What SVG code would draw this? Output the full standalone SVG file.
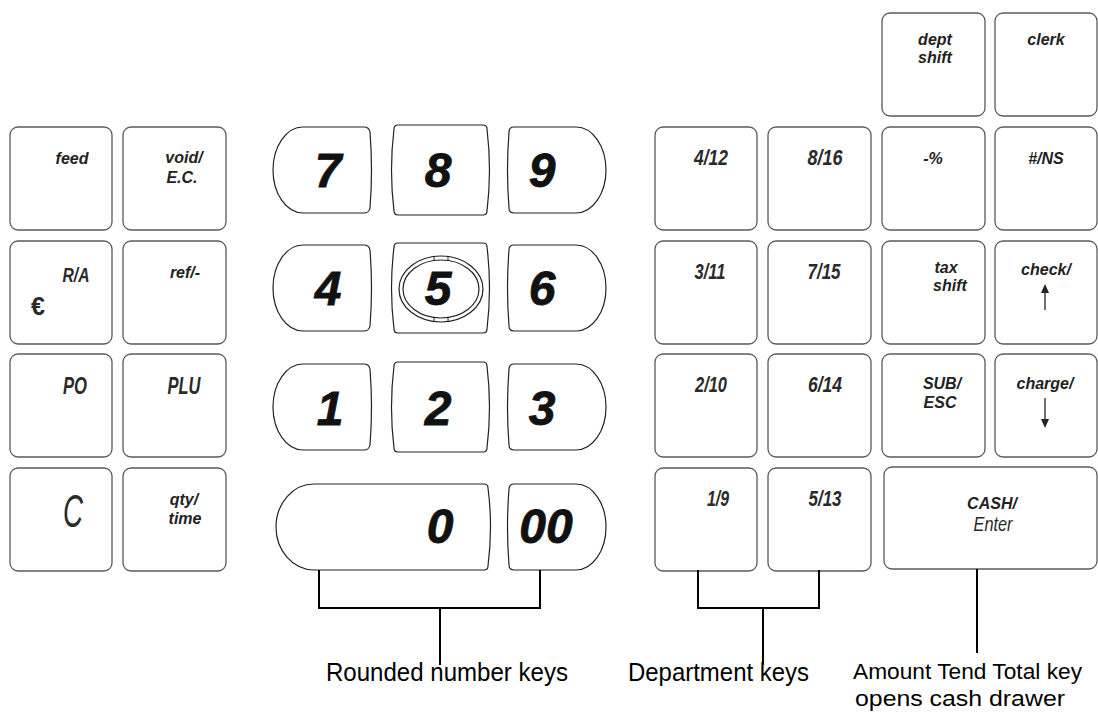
<svg xmlns="http://www.w3.org/2000/svg" xmlns:xlink="http://www.w3.org/1999/xlink" width="1098" height="713" viewBox="0 0 1098 713">
<style>
.k{fill:#fff;stroke:#5a5a5a;stroke-width:1.3}
.n{fill:#fff;stroke:#222;stroke-width:1.2}
.lb{font-family:"Liberation Sans",Arial,sans-serif;font-style:italic;font-weight:bold;font-size:16px;fill:#222;text-anchor:middle}
.nr{font-family:"Liberation Sans",Arial,sans-serif;font-style:italic;font-weight:bold;font-size:20px;fill:#2a2a2a;text-anchor:middle}
.nb{font-family:"Liberation Sans",Arial,sans-serif;font-style:italic;font-weight:bold;font-size:22px;fill:#2a2a2a;text-anchor:middle}
.dg{font-family:"Liberation Sans",Arial,sans-serif;font-style:italic;font-weight:bold;font-size:48px;fill:#111;stroke:#111;stroke-width:0.8;text-anchor:middle}
.cap{font-family:"Liberation Sans",Arial,sans-serif;font-size:25px;fill:#000}
.cap2{font-family:"Liberation Sans",Arial,sans-serif;font-size:22px;fill:#000}
.conn{stroke:#000;stroke-width:2;fill:none}
</style>
<defs>
<path id="kl" d="M30,0 H91 Q96,0 97,5 Q100,43 97,81 Q96,86 91,86 H30 A30,43 0 0 1 30,0 Z"/>
<path id="km" d="M8,0 H93 Q97,0 97,4 Q102,45 97,86 Q97,90 93,90 H8 Q4,90 4,86 Q-1,45 4,4 Q4,0 8,0 Z"/>
<path id="kr" d="M68,0 H6 Q1,0 1,5 Q-2,43 1,81 Q1,86 6,86 H68 A30,43 0 0 0 68,0 Z"/>
</defs>
<rect width="1098" height="713" fill="#fff"/>

<!-- left function keys -->
<g id="key-feed"><rect class="k" x="10" y="127" width="102" height="103" rx="8"/><text class="lb" x="72" y="164">feed</text></g>
<g id="key-void"><rect class="k" x="123" y="127" width="103" height="103" rx="8"/><text class="lb" x="184" y="163">void/</text><text class="lb" x="182" y="183">E.C.</text></g>
<g id="key-ra"><rect class="k" x="10" y="241" width="102" height="103" rx="8"/><text class="nr" x="76" y="282" textLength="27" lengthAdjust="spacingAndGlyphs">R/A</text><text class="nr" x="38" y="315" style="font-style:normal;font-weight:bold;font-size:25px">€</text></g>
<g id="key-ref"><rect class="k" x="123" y="241" width="103" height="103" rx="8"/><text class="lb" x="185" y="278">ref/-</text></g>
<g id="key-po"><rect class="k" x="10" y="354" width="102" height="103" rx="8"/><text class="nr" x="75" y="394" style="font-size:23px" textLength="24" lengthAdjust="spacingAndGlyphs">PO</text></g>
<g id="key-plu"><rect class="k" x="123" y="354" width="103" height="103" rx="8"/><text class="nr" x="184" y="394" style="font-size:23px" textLength="33" lengthAdjust="spacingAndGlyphs">PLU</text></g>
<g id="key-c"><rect class="k" x="10" y="468" width="102" height="103" rx="8"/><text class="nr" x="73" y="527" style="font-size:47px;font-weight:normal" textLength="20" lengthAdjust="spacingAndGlyphs">C</text></g>
<g id="key-qty"><rect class="k" x="123" y="468" width="103" height="103" rx="8"/><text class="lb" x="184" y="505">qty/</text><text class="lb" x="185" y="524">time</text></g>

<!-- number keys -->
<g id="key-7"><use href="#kl" class="n" x="273" y="127"/><text class="dg" x="328" y="187">7</text></g>
<g id="key-8"><use href="#km" class="n" x="390" y="125"/><text class="dg" x="438" y="187">8</text></g>
<g id="key-9"><use href="#kr" class="n" x="508" y="127"/><text class="dg" x="542" y="187">9</text></g>
<g id="key-4"><use href="#kl" class="n" x="273" y="245"/><text class="dg" x="328" y="305">4</text></g>
<g id="key-5"><use href="#km" class="n" x="390" y="243"/>
<ellipse cx="441" cy="289" rx="42" ry="33" fill="none" stroke="#222" stroke-width="1.2"/>
<ellipse cx="441" cy="289" rx="38" ry="29" fill="none" stroke="#222" stroke-width="1.2"/>
<path d="M434,256v4M448,256v4M434,318v4M448,318v4" stroke="#222" stroke-width="1"/>
<text class="dg" x="438" y="305">5</text></g>
<g id="key-6"><use href="#kr" class="n" x="508" y="245"/><text class="dg" x="542" y="305">6</text></g>
<g id="key-1"><use href="#kl" class="n" x="273" y="364"/><text class="dg" x="330" y="425">1</text></g>
<g id="key-2"><use href="#km" class="n" x="390" y="362"/><text class="dg" x="438" y="425">2</text></g>
<g id="key-3"><use href="#kr" class="n" x="508" y="364"/><text class="dg" x="542" y="425">3</text></g>
<g id="key-0"><path class="n" d="M314,484 H484 Q488,484 488,488 Q493,527 488,566 Q488,570 484,570 H314 A38,43 0 0 1 314,484 Z"/><text class="dg" x="440" y="543">0</text></g>
<g id="key-00"><use href="#kr" class="n" x="508" y="484"/><text class="dg" x="546" y="543">00</text></g>

<!-- department keys -->
<g id="key-4-12"><rect class="k" x="655" y="127" width="102" height="103" rx="8"/><text class="nb" x="711" y="165" textLength="34" lengthAdjust="spacingAndGlyphs">4/12</text></g>
<g id="key-8-16"><rect class="k" x="768" y="127" width="103" height="103" rx="8"/><text class="nb" x="825" y="165" textLength="35" lengthAdjust="spacingAndGlyphs">8/16</text></g>
<g id="key-3-11"><rect class="k" x="655" y="241" width="102" height="103" rx="8"/><text class="nb" x="710" y="279" textLength="31" lengthAdjust="spacingAndGlyphs">3/11</text></g>
<g id="key-7-15"><rect class="k" x="768" y="241" width="103" height="103" rx="8"/><text class="nb" x="824" y="279" textLength="33" lengthAdjust="spacingAndGlyphs">7/15</text></g>
<g id="key-2-10"><rect class="k" x="655" y="354" width="102" height="103" rx="8"/><text class="nb" x="711" y="392" textLength="32" lengthAdjust="spacingAndGlyphs">2/10</text></g>
<g id="key-6-14"><rect class="k" x="768" y="354" width="103" height="103" rx="8"/><text class="nb" x="825" y="392" textLength="34" lengthAdjust="spacingAndGlyphs">6/14</text></g>
<g id="key-1-9"><rect class="k" x="655" y="468" width="102" height="103" rx="8"/><text class="nb" x="718" y="506" textLength="22" lengthAdjust="spacingAndGlyphs">1/9</text></g>
<g id="key-5-13"><rect class="k" x="768" y="468" width="103" height="103" rx="8"/><text class="nb" x="825" y="506" textLength="33" lengthAdjust="spacingAndGlyphs">5/13</text></g>

<!-- right function keys -->
<g id="key-dept-shift"><rect class="k" x="882" y="13" width="103" height="103" rx="8"/><text class="lb" x="935" y="45">dept</text><text class="lb" x="935" y="63">shift</text></g>
<g id="key-clerk"><rect class="k" x="995" y="13" width="102" height="103" rx="8"/><text class="lb" x="1046" y="45">clerk</text></g>
<g id="key-pct"><rect class="k" x="882" y="127" width="103" height="103" rx="8"/><text class="lb" x="933" y="164">-%</text></g>
<g id="key-ns"><rect class="k" x="995" y="127" width="102" height="103" rx="8"/><text class="lb" x="1046" y="164">#/NS</text></g>
<g id="key-tax-shift"><rect class="k" x="882" y="241" width="103" height="103" rx="8"/><text class="lb" x="946" y="273">tax</text><text class="lb" x="950" y="291">shift</text></g>
<g id="key-check"><rect class="k" x="995" y="241" width="102" height="103" rx="8"/><text class="lb" x="1046" y="275">check/</text>
<path d="M1045,292V310" stroke="#222" stroke-width="1.3"/><path d="M1045,284L1041,293H1049Z" fill="#222"/></g>
<g id="key-sub"><rect class="k" x="882" y="354" width="103" height="103" rx="8"/><text class="lb" x="942" y="389">SUB/</text><text class="lb" x="940" y="408">ESC</text></g>
<g id="key-charge"><rect class="k" x="995" y="354" width="102" height="103" rx="8"/><text class="lb" x="1045" y="389">charge/</text>
<path d="M1045,398V420" stroke="#222" stroke-width="1.3"/><path d="M1045,428L1041,419H1049Z" fill="#222"/></g>
<g id="key-cash"><rect class="k" x="884" y="467" width="213" height="102" rx="8"/><text class="lb" x="992" y="509">CASH/</text><text class="nr" x="993" y="531" style="font-weight:normal" textLength="39" lengthAdjust="spacingAndGlyphs">Enter</text></g>

<!-- connectors -->
<g id="connectors">
<path class="conn" d="M319,570V608H540V570M440,608V665"/>
<path class="conn" d="M698,570V608H819V570M763,608V665"/>
<path class="conn" d="M977,569V653"/>
</g>

<!-- captions -->
<g id="captions">
<text class="cap" x="326" y="681" textLength="242" lengthAdjust="spacingAndGlyphs">Rounded number keys</text>
<text class="cap" x="628" y="681" textLength="181" lengthAdjust="spacingAndGlyphs">Department keys</text>
<text class="cap2" x="853" y="679" textLength="229" lengthAdjust="spacingAndGlyphs">Amount Tend Total key</text>
<text class="cap2" x="855" y="706" textLength="210" lengthAdjust="spacingAndGlyphs">opens cash drawer</text>
</g>
</svg>
